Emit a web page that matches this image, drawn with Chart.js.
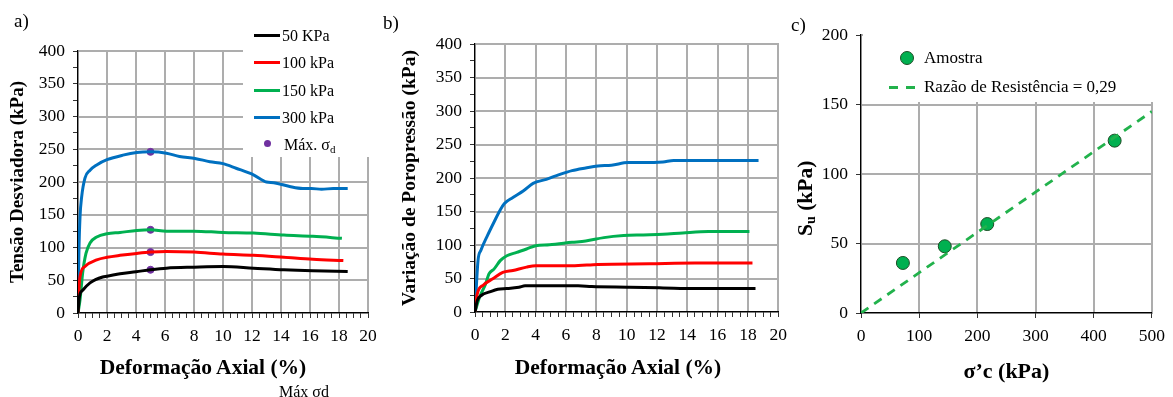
<!DOCTYPE html>
<html>
<head>
<meta charset="utf-8">
<script src="https://cdn.jsdelivr.net/npm/chart.js@4.4.1/dist/chart.umd.min.js"></script>
<style>
  body { margin: 0; background: #fff; }
  #wrap { position: relative; width: 1173px; height: 397px; overflow: hidden; font-family: 'Liberation Serif', 'Times New Roman', serif; color: #000; }
  canvas { position: absolute; top: 0; z-index: 1; }
  .grade { position: absolute; background: #adadad; z-index: 0; }
  .txt { position: absolute; white-space: nowrap; font-size: 16px; line-height: 18px; z-index: 2; }
  .lbl { font-size: 19px; }
  .tit { position: absolute; white-space: nowrap; font-size: 21.5px; line-height: 24px; font-weight: bold; transform: translateX(-50%); z-index: 2; }
  .amostra { position: absolute; width: 12px; height: 12px; border-radius: 50%; background: #00B050; border: 1px solid #1d4d25; z-index: 2; }
  .linha { position: absolute; height: 3px; z-index: 2; }
  .dot { position: absolute; width: 7px; height: 7px; border-radius: 50%; background: #7030A0; z-index: 2; }
  sub { font-size: 11px; vertical-align: -3px; line-height: 0; }
</style>
</head>
<body>
<div id="wrap">
  <canvas id="graficoA" width="390" height="397" style="left:0px"></canvas>
  <canvas id="graficoB" width="415" height="397" style="left:380px"></canvas>
  <canvas id="graficoC" width="378" height="397" style="left:795px"></canvas>

  <div class="txt lbl" style="left:14px; top:12px">a)</div>
  <div class="txt lbl" style="left:383px; top:14px">b)</div>
  <div class="txt lbl" style="left:791px; top:16px">c)</div>

  <div class="tit" style="left:203px; top:355px">Deformação Axial (%)</div>
  <div class="tit" style="left:618px; top:355px">Deformação Axial (%)</div>

  <!-- legenda a) -->
  <div class="linha" style="left:254px; top:34px; width:26px; background:#000"></div>
  <div class="txt" style="left:282px; top:27px">50 KPa</div>
  <div class="linha" style="left:254px; top:61px; width:26px; background:#FF0000"></div>
  <div class="txt" style="left:282px; top:54px">100 kPa</div>
  <div class="linha" style="left:254px; top:89px; width:26px; background:#00B050"></div>
  <div class="txt" style="left:282px; top:82px">150 kPa</div>
  <div class="linha" style="left:254px; top:116px; width:26px; background:#0070C0"></div>
  <div class="txt" style="left:282px; top:109px">300 kPa</div>
  <div class="dot" style="left:264px; top:140px"></div>
  <div class="txt" style="left:284px; top:136px">Máx. σ<sub>d</sub></div>

  <div class="txt" style="left:279px; top:383px">Máx σd</div>

  <!-- legenda c) -->
  <div class="amostra" style="left:900px; top:51px"></div>
  <div class="txt" style="left:924px; top:49px; font-size:17px">Amostra</div>
  <div class="linha" style="left:889px; top:86px; width:9px; background:#22B24C"></div>
  <div class="linha" style="left:906px; top:86px; width:9px; background:#22B24C"></div>
  <div class="txt" style="left:924px; top:78px; font-size:17px">Razão de Resistência = 0,29</div>

  <div class="txt" style="left:793px; top:236px; font-size:21.5px; line-height:24px; font-weight:bold; transform:rotate(-90deg); transform-origin:0 0">S<sub style="font-size:14px">u</sub> (kPa)</div>
</div>

<script>
// ---- a) Tensão desviadora x deformação axial ----
const defA50 = [0, 0.1, 0.34, 0.83, 1.7, 2.0, 2.9, 4.0, 5.0, 6.1, 8.0, 10.0, 12.1, 14.2, 16.2, 18.6];
const tensao50 = [0, 25, 35, 46, 55, 56, 60, 63, 66, 68.5, 70, 71, 68.5, 66, 64.5, 63.5];
const defA100 = [0, 0.05, 0.14, 0.48, 1.29, 2.0, 2.9, 4.05, 5.0, 6.1, 8.0, 10.0, 12.1, 14.2, 16.2, 18.3];
const tensao100 = [0, 30, 56, 71, 81, 85, 88, 91, 93, 94, 93, 90, 88, 85, 82, 80];
const defA150 = [0, 0.14, 0.32, 0.55, 0.83, 1.29, 2.0, 2.9, 4.05, 5.0, 6.1, 8.0, 10.0, 12.1, 14.2, 16.2, 18.2];
const tensao150 = [0, 20, 61, 91, 107, 116, 121, 123, 126, 127, 125, 125, 123, 122, 119, 117, 114];
const defA300 = [0, 0.06, 0.14, 0.25, 0.48, 0.83, 1.29, 2.0, 3.1, 4.05, 5.0, 6.1, 7.0, 8.07, 9.1, 10.0, 10.9, 12.1, 13.0, 13.5, 14.6, 15.5, 16.1, 16.8, 17.6, 18.6];
const tensao300 = [0, 90, 147, 177, 206, 218, 226, 234, 241, 245, 246, 244, 239, 236, 231, 228, 221, 211, 200, 199, 193, 190, 190, 189, 190, 190];
const defMax = [5, 5, 5, 5];
const tensaoMax = [246, 127, 93, 66];

// ---- b) Variação de poropressão x deformação axial ----
const defB50 = [0, 0.15, 0.43, 0.97, 1.5, 2.1, 2.9, 3.3, 4.9, 6.8, 7.7, 10.2, 12.4, 14.5, 18.5];
const poro50 = [0, 17, 25, 30, 34, 35, 37, 39, 39, 39, 38, 37, 36, 35, 35];
const defB100 = [0, 0.15, 0.54, 1.2, 1.83, 2.5, 3.4, 4.0, 6.4, 8.1, 11.5, 14.5, 18.3];
const poro100 = [0, 27, 40, 50, 59, 62, 67, 69, 69, 71, 72, 73, 73];
const defB150 = [0, 0.3, 0.7, 0.92, 1.25, 1.68, 2.1, 2.75, 3.4, 4.0, 4.9, 6.4, 7.3, 8.5, 9.8, 11.1, 12.4, 13.7, 15.4, 18.1];
const poro150 = [0, 22, 42, 57, 64, 77, 84, 89, 94, 99, 100.5, 104, 106, 111, 114, 115, 116, 118, 120, 120];
const defB300 = [0, 0.2, 0.39, 0.82, 1.25, 1.68, 1.94, 2.5, 3.2, 3.83, 4.7, 5.55, 6.4, 7.3, 8.1, 9.0, 10.1, 11.1, 12.4, 13.1, 18.7];
const poro300 = [0, 77, 92, 114, 134, 153, 162, 171, 181, 192, 198, 205, 211, 215, 218, 219, 223, 223, 224, 226, 226];

// ---- c) Su x tensão efetiva de consolidação ----
const sigmaC = [72, 144, 217, 436];
const su = [36, 48, 64, 124];
const razaoX = [0, 500];
const razaoY = [0, 145];

// valores das linhas de grade
const gradeDef = [0, 2, 4, 6, 8, 10, 12, 14, 16, 18, 20];
const gradeKpa = [0, 50, 100, 150, 200, 250, 300, 350, 400];
const gradeSigma = [0, 100, 200, 300, 400, 500];
const gradeSu = [0, 50, 100, 150, 200];

Chart.defaults.font.family = "'Liberation Serif', 'Times New Roman', serif";
Chart.defaults.color = '#000';

function pontos(xs, ys) {
    return xs.map((x, i) => ({ x: x, y: ys[i] }));
}

function curva(label, xs, ys, cor) {
    return {
        label: label,
        data: pontos(xs, ys),
        borderColor: cor,
        backgroundColor: cor,
        borderWidth: 3,
        pointRadius: 0,
        showLine: true,
        cubicInterpolationMode: 'monotone'
    };
}

// linhas de grade atrás do canvas, nas posições dadas pelas escalas do gráfico
// caixa = área da legenda (sem grade), em coordenadas do canvas
function grade(chart, esquerda, valsX, valsY, caixa) {
    const wrap = document.getElementById('wrap');
    const a = chart.chartArea;
    const t = Math.round(a.top), b = Math.round(a.bottom);
    const l = Math.round(a.left), r = Math.round(a.right);
    const linha = (x, y, w, h) => {
        const d = document.createElement('div');
        d.className = 'grade';
        d.style.left = (esquerda + x) + 'px';
        d.style.top = y + 'px';
        d.style.width = w + 'px';
        d.style.height = h + 'px';
        wrap.appendChild(d);
    };
    valsX.forEach(v => {
        const px = Math.round(chart.scales.x.getPixelForValue(v));
        const topo = (caixa && px >= caixa[0]) ? Math.max(t, caixa[3]) : t;
        linha(px - 1, topo - 1, 2, b - topo + 1);
    });
    valsY.forEach(v => {
        const py = Math.round(chart.scales.y.getPixelForValue(v));
        const fim = (caixa && py < caixa[3]) ? Math.min(r, caixa[0]) : r;
        linha(l, py - 1, fim - l + 1, 2);
    });
}

function eixoDeformacao(alturaEixo) {
    return {
        type: 'linear', min: 0, max: 20,
        afterFit: s => { s.height = alturaEixo; },
        ticks: {
            stepSize: 0.5, autoSkip: false, maxRotation: 0, padding: 8,
            font: { size: 17.5 },
            callback: v => (Math.abs(v % 2) < 1e-6 ? v : '')
        },
        grid: { drawOnChartArea: false, tickColor: '#333', tickLength: 5 },
        border: { color: '#000', width: 1.2 }
    };
}

function eixoTensao(titulo, largura, tamTitulo, padTitulo) {
    return {
        type: 'linear', min: 0, max: 400,
        afterFit: s => { s.width = largura; },
        ticks: {
            stepSize: 25, autoSkip: false, padding: 8,
            font: { size: 17.5 },
            callback: v => (v % 50 === 0 ? v : '')
        },
        grid: { drawOnChartArea: false, tickColor: '#333', tickLength: 5 },
        border: { color: '#000', width: 1.2 },
        title: { display: true, text: titulo, font: { size: tamTitulo, weight: 'bold' }, padding: { top: padTitulo, bottom: 0 } }
    };
}

const opcoesBase = {
    responsive: false,
    animation: false,
    plugins: { legend: { display: false }, tooltip: { enabled: false } }
};

// a)
const graficoA = new Chart(document.getElementById('graficoA').getContext('2d'), {
    type: 'scatter',
    data: {
        datasets: [
            curva('50 KPa', defA50, tensao50, '#000000'),
            curva('100 kPa', defA100, tensao100, '#FF0000'),
            curva('150 kPa', defA150, tensao150, '#00B050'),
            curva('300 kPa', defA300, tensao300, '#0070C0'),
            {
                label: 'Máx. σd',
                data: pontos(defMax, tensaoMax),
                backgroundColor: '#7030A0',
                borderColor: '#7030A0',
                pointRadius: 3.5,
                showLine: false
            }
        ]
    },
    options: {
        ...opcoesBase,
        layout: { padding: { top: 51, right: 22, left: 0, bottom: 0 } },
        scales: {
            x: eixoDeformacao(84),
            y: eixoTensao('Tensão Desviadora (kPa)', 78, 19, 7)
        }
    }
});
grade(graficoA, 0, gradeDef, gradeKpa, [242, 0, 390, 158]);

// b)
const graficoB = new Chart(document.getElementById('graficoB').getContext('2d'), {
    type: 'scatter',
    data: {
        datasets: [
            curva('50 KPa', defB50, poro50, '#000000'),
            curva('100 kPa', defB100, poro100, '#FF0000'),
            curva('150 kPa', defB150, poro150, '#00B050'),
            curva('300 kPa', defB300, poro300, '#0070C0')
        ]
    },
    options: {
        ...opcoesBase,
        layout: { padding: { top: 44, right: 12, left: 0, bottom: 0 } },
        scales: {
            x: eixoDeformacao(85),
            y: eixoTensao('Variação de Poropressão (kPa)', 95, 19.5, 18)
        }
    }
});
grade(graficoB, 380, gradeDef, gradeKpa, null);

// c)
const graficoC = new Chart(document.getElementById('graficoC').getContext('2d'), {
    type: 'scatter',
    data: {
        datasets: [
            {
                label: 'Razão de Resistência = 0,29',
                data: pontos(razaoX, razaoY),
                borderColor: '#22B24C',
                borderWidth: 2.8,
                borderDash: [9, 7],
                pointRadius: 0,
                showLine: true
            },
            {
                label: 'Amostra',
                data: pontos(sigmaC, su),
                backgroundColor: '#00B050',
                borderColor: '#1d4d25',
                borderWidth: 1,
                pointRadius: 6.5
            }
        ]
    },
    options: {
        ...opcoesBase,
        layout: { padding: { top: 35, right: 15, left: 0, bottom: 0 } },
        scales: {
            x: {
                type: 'linear', min: 0, max: 500,
                afterFit: s => { s.height = 84; },
                ticks: { stepSize: 100, padding: 8, maxRotation: 0, font: { size: 17.5 } },
                grid: { drawOnChartArea: false, tickColor: '#333', tickLength: 5 },
                border: { color: '#000', width: 1.2 },
                title: { display: true, text: 'σ’c (kPa)', font: { size: 22, weight: 'bold' }, padding: { top: 0, bottom: 11 } }
            },
            y: {
                type: 'linear', min: 0, max: 200,
                afterFit: s => { s.width = 66; },
                ticks: { stepSize: 50, padding: 8, font: { size: 17.5 } },
                grid: { drawOnChartArea: false, tickColor: '#333', tickLength: 5 },
                border: { color: '#000', width: 1.2 }
            }
        }
    }
});
grade(graficoC, 795, gradeSigma, gradeSu, [67, 38, 362, 103]);
</script>
</body>
</html>
